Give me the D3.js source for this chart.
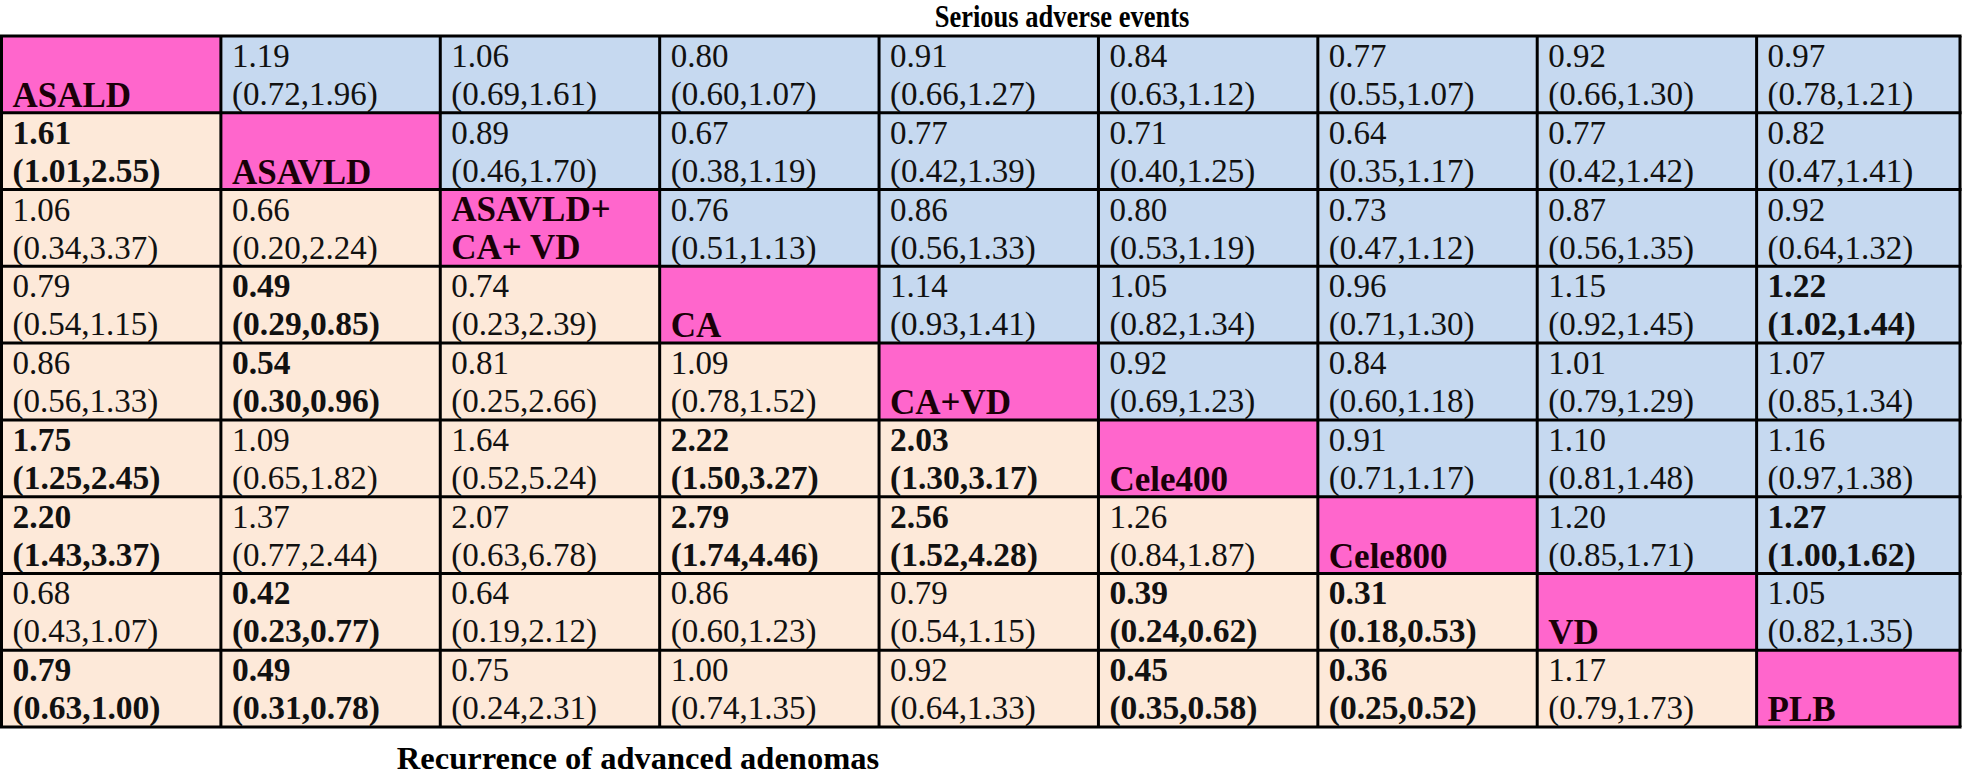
<!DOCTYPE html>
<html>
<head>
<meta charset="utf-8">
<script src="https://cdn.jsdelivr.net/npm/d3@7"></script>
<style>
  html, body { margin: 0; padding: 0; background: #fff; }
  svg text { font-family: "Liberation Serif", "Times New Roman", serif; }
</style>
</head>
<body>
<svg id="chart" width="1969" height="776"></svg>
<script>
// treatments on the diagonal (a label may span two lines)
var treatments = [["ASALD"], ["ASAVLD"], ["ASAVLD+", "CA+ VD"], ["CA"], ["CA+VD"], ["Cele400"], ["Cele800"], ["VD"], ["PLB"]];

// upper triangle: serious adverse events, row i -> columns i+1..8  [est, lo, hi, bold]
var sae = [
  [["1.19","0.72","1.96",0],["1.06","0.69","1.61",0],["0.80","0.60","1.07",0],["0.91","0.66","1.27",0],["0.84","0.63","1.12",0],["0.77","0.55","1.07",0],["0.92","0.66","1.30",0],["0.97","0.78","1.21",0]],
  [["0.89","0.46","1.70",0],["0.67","0.38","1.19",0],["0.77","0.42","1.39",0],["0.71","0.40","1.25",0],["0.64","0.35","1.17",0],["0.77","0.42","1.42",0],["0.82","0.47","1.41",0]],
  [["0.76","0.51","1.13",0],["0.86","0.56","1.33",0],["0.80","0.53","1.19",0],["0.73","0.47","1.12",0],["0.87","0.56","1.35",0],["0.92","0.64","1.32",0]],
  [["1.14","0.93","1.41",0],["1.05","0.82","1.34",0],["0.96","0.71","1.30",0],["1.15","0.92","1.45",0],["1.22","1.02","1.44",1]],
  [["0.92","0.69","1.23",0],["0.84","0.60","1.18",0],["1.01","0.79","1.29",0],["1.07","0.85","1.34",0]],
  [["0.91","0.71","1.17",0],["1.10","0.81","1.48",0],["1.16","0.97","1.38",0]],
  [["1.20","0.85","1.71",0],["1.27","1.00","1.62",1]],
  [["1.05","0.82","1.35",0]],
  []
];

// lower triangle: recurrence of advanced adenomas, row i -> columns 0..i-1
var raa = [
  [],
  [["1.61","1.01","2.55",1]],
  [["1.06","0.34","3.37",0],["0.66","0.20","2.24",0]],
  [["0.79","0.54","1.15",0],["0.49","0.29","0.85",1],["0.74","0.23","2.39",0]],
  [["0.86","0.56","1.33",0],["0.54","0.30","0.96",1],["0.81","0.25","2.66",0],["1.09","0.78","1.52",0]],
  [["1.75","1.25","2.45",1],["1.09","0.65","1.82",0],["1.64","0.52","5.24",0],["2.22","1.50","3.27",1],["2.03","1.30","3.17",1]],
  [["2.20","1.43","3.37",1],["1.37","0.77","2.44",0],["2.07","0.63","6.78",0],["2.79","1.74","4.46",1],["2.56","1.52","4.28",1],["1.26","0.84","1.87",0]],
  [["0.68","0.43","1.07",0],["0.42","0.23","0.77",1],["0.64","0.19","2.12",0],["0.86","0.60","1.23",0],["0.79","0.54","1.15",0],["0.39","0.24","0.62",1],["0.31","0.18","0.53",1]],
  [["0.79","0.63","1.00",1],["0.49","0.31","0.78",1],["0.75","0.24","2.31",0],["1.00","0.74","1.35",0],["0.92","0.64","1.33",0],["0.45","0.35","0.58",1],["0.36","0.25","0.52",1],["1.17","0.79","1.73",0]]
];

var topTitle = "Serious adverse events";
var bottomTitle = "Recurrence of advanced adenomas";

var colors = { diag: "#ff66cc", upper: "#c6d9f0", lower: "#fde9d9" };

var n = treatments.length;
var tableRight = 1960;
var x = d3.scaleLinear().domain([0, n]).range([1.5, 1976]);
var y = d3.scaleLinear().domain([0, n]).range([36, 727]);
var colW = function(j) { return Math.min(x(j + 1), tableRight) - x(j); };

// flatten into cells
var cells = [];
for (var i = 0; i < n; i++) {
  cells.push({ r: i, c: i, kind: "diag", label: treatments[i] });
  sae[i].forEach(function(v, k) {
    cells.push({ r: i, c: i + 1 + k, kind: "upper", v: v });
  });
  raa[i].forEach(function(v, k) {
    cells.push({ r: i, c: k, kind: "lower", v: v });
  });
}

var svg = d3.select("#chart");

var g = svg.selectAll("g.cell").data(cells).enter().append("g")
  .attr("class", "cell")
  .attr("transform", function(d) { return "translate(" + x(d.c) + "," + y(d.r) + ")"; });

g.append("rect")
  .attr("width", function(d) { return colW(d.c); })
  .attr("height", y(1) - y(0))
  .style("fill", function(d) { return colors[d.kind]; });

var line1 = 31, line2 = 69, padX = 11;

g.each(function(d) {
  var s = d3.select(this);
  if (d.kind === "diag") {
    var lines = d.label;
    lines.forEach(function(t, k) {
      s.append("text")
        .attr("x", padX)
        .attr("y", lines.length === 2 ? (k === 0 ? line1 : line2) : line2 + 2)
        .style("font-size", "35px").style("font-weight", "bold").style("fill", "#1a0008")
        .text(t);
    });
  } else {
    var bold = d.v[3] === 1;
    var fs = bold ? "33.5px" : "33px";
    s.append("text").attr("x", padX).attr("y", line1)
      .style("font-size", fs).style("font-weight", bold ? "bold" : "normal").style("fill", "#111")
      .text(d.v[0]);
    s.append("text").attr("x", padX).attr("y", line2)
      .style("font-size", fs).style("font-weight", bold ? "bold" : "normal").style("fill", "#111")
      .text("(" + d.v[1] + "," + d.v[2] + ")");
  }
});

// grid lines
var grid = svg.append("g").attr("class", "grid").style("stroke", "#000").style("stroke-width", 3);
d3.range(n + 1).forEach(function(j) {
  var xx = j === n ? tableRight : x(j);
  grid.append("line").attr("x1", xx).attr("x2", xx).attr("y1", y(0)).attr("y2", y(n));
});
d3.range(n + 1).forEach(function(i) {
  grid.append("line").attr("x1", x(0) - 1.5).attr("x2", tableRight + 1.5).attr("y1", y(i)).attr("y2", y(i));
});

// top title is drawn a little taller than wide, as in the source
svg.append("text").attr("transform", "translate(1062,27) scale(1,1.22)").attr("text-anchor", "middle")
  .style("font-size", "26.5px").style("font-weight", "bold").text(topTitle);
svg.append("text").attr("x", 638).attr("y", 769).attr("text-anchor", "middle")
  .style("font-size", "32.5px").style("font-weight", "bold").text(bottomTitle);
</script>
</body>
</html>
